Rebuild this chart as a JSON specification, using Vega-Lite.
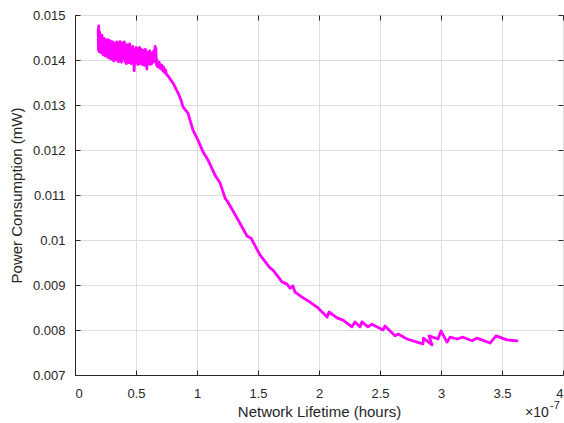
{
  "$schema": "https://vega.github.io/schema/vega-lite/v6.json",
  "width": 488,
  "height": 360,
  "autosize": "none",
  "padding": {"left": 75, "top": 15, "right": 1, "bottom": 48},
  "background": "white",
  "config": {
    "view": {"stroke": "#262626", "strokeWidth": 1},
    "font": "Liberation Sans",
    "axis": {
      "domainColor": "#262626",
      "tickColor": "#262626",
      "labelColor": "#262626",
      "titleColor": "#262626",
      "labelFont": "Liberation Sans",
      "titleFont": "Liberation Sans",
      "labelFontSize": 13,
      "titleFontSize": 15,
      "titleFontWeight": "normal",
      "gridColor": "#dedede",
      "gridWidth": 1,
      "tickSize": -5,
      "domainWidth": 1
    }
  },
  "data": {
    "values": [
      {"lifetime": 0.190, "power": 0.01468},
      {"lifetime": 0.192, "power": 0.01422},
      {"lifetime": 0.194, "power": 0.01476},
      {"lifetime": 0.197, "power": 0.01430},
      {"lifetime": 0.199, "power": 0.01418},
      {"lifetime": 0.202, "power": 0.01462},
      {"lifetime": 0.205, "power": 0.01440},
      {"lifetime": 0.207, "power": 0.01452},
      {"lifetime": 0.210, "power": 0.01420},
      {"lifetime": 0.213, "power": 0.01448},
      {"lifetime": 0.215, "power": 0.01426},
      {"lifetime": 0.218, "power": 0.01416},
      {"lifetime": 0.221, "power": 0.01455},
      {"lifetime": 0.224, "power": 0.01438},
      {"lifetime": 0.227, "power": 0.01446},
      {"lifetime": 0.230, "power": 0.01412},
      {"lifetime": 0.233, "power": 0.01430},
      {"lifetime": 0.236, "power": 0.01420},
      {"lifetime": 0.239, "power": 0.01448},
      {"lifetime": 0.243, "power": 0.01410},
      {"lifetime": 0.246, "power": 0.01436},
      {"lifetime": 0.249, "power": 0.01425},
      {"lifetime": 0.252, "power": 0.01444},
      {"lifetime": 0.256, "power": 0.01415},
      {"lifetime": 0.259, "power": 0.01408},
      {"lifetime": 0.262, "power": 0.01440},
      {"lifetime": 0.266, "power": 0.01428},
      {"lifetime": 0.269, "power": 0.01445},
      {"lifetime": 0.273, "power": 0.01405},
      {"lifetime": 0.276, "power": 0.01422},
      {"lifetime": 0.280, "power": 0.01437},
      {"lifetime": 0.283, "power": 0.01416},
      {"lifetime": 0.287, "power": 0.01443},
      {"lifetime": 0.291, "power": 0.01426},
      {"lifetime": 0.294, "power": 0.01402},
      {"lifetime": 0.298, "power": 0.01434},
      {"lifetime": 0.302, "power": 0.01418},
      {"lifetime": 0.305, "power": 0.01441},
      {"lifetime": 0.309, "power": 0.01408},
      {"lifetime": 0.313, "power": 0.01430},
      {"lifetime": 0.317, "power": 0.01398},
      {"lifetime": 0.321, "power": 0.01420},
      {"lifetime": 0.325, "power": 0.01438},
      {"lifetime": 0.329, "power": 0.01412},
      {"lifetime": 0.333, "power": 0.01434},
      {"lifetime": 0.337, "power": 0.01400},
      {"lifetime": 0.341, "power": 0.01416},
      {"lifetime": 0.345, "power": 0.01440},
      {"lifetime": 0.349, "power": 0.01406},
      {"lifetime": 0.353, "power": 0.01426},
      {"lifetime": 0.357, "power": 0.01396},
      {"lifetime": 0.361, "power": 0.01432},
      {"lifetime": 0.365, "power": 0.01414},
      {"lifetime": 0.369, "power": 0.01441},
      {"lifetime": 0.373, "power": 0.01402},
      {"lifetime": 0.377, "power": 0.01424},
      {"lifetime": 0.381, "power": 0.01395},
      {"lifetime": 0.385, "power": 0.01418},
      {"lifetime": 0.389, "power": 0.01438},
      {"lifetime": 0.393, "power": 0.01404},
      {"lifetime": 0.397, "power": 0.01428},
      {"lifetime": 0.401, "power": 0.01412},
      {"lifetime": 0.405, "power": 0.01440},
      {"lifetime": 0.409, "power": 0.01396},
      {"lifetime": 0.413, "power": 0.01420},
      {"lifetime": 0.417, "power": 0.01430},
      {"lifetime": 0.421, "power": 0.01392},
      {"lifetime": 0.425, "power": 0.01414},
      {"lifetime": 0.429, "power": 0.01434},
      {"lifetime": 0.433, "power": 0.01400},
      {"lifetime": 0.437, "power": 0.01424},
      {"lifetime": 0.441, "power": 0.01394},
      {"lifetime": 0.445, "power": 0.01412},
      {"lifetime": 0.449, "power": 0.01436},
      {"lifetime": 0.453, "power": 0.01398},
      {"lifetime": 0.457, "power": 0.01418},
      {"lifetime": 0.461, "power": 0.01392},
      {"lifetime": 0.465, "power": 0.01426},
      {"lifetime": 0.469, "power": 0.01405},
      {"lifetime": 0.473, "power": 0.01430},
      {"lifetime": 0.477, "power": 0.01395},
      {"lifetime": 0.481, "power": 0.01412},
      {"lifetime": 0.485, "power": 0.01376},
      {"lifetime": 0.489, "power": 0.01402},
      {"lifetime": 0.493, "power": 0.01424},
      {"lifetime": 0.497, "power": 0.01398},
      {"lifetime": 0.501, "power": 0.01428},
      {"lifetime": 0.505, "power": 0.01393},
      {"lifetime": 0.509, "power": 0.01410},
      {"lifetime": 0.513, "power": 0.01426},
      {"lifetime": 0.517, "power": 0.01390},
      {"lifetime": 0.521, "power": 0.01416},
      {"lifetime": 0.525, "power": 0.01400},
      {"lifetime": 0.529, "power": 0.01428},
      {"lifetime": 0.533, "power": 0.01392},
      {"lifetime": 0.537, "power": 0.01408},
      {"lifetime": 0.541, "power": 0.01424},
      {"lifetime": 0.545, "power": 0.01396},
      {"lifetime": 0.549, "power": 0.01414},
      {"lifetime": 0.553, "power": 0.01390},
      {"lifetime": 0.557, "power": 0.01422},
      {"lifetime": 0.561, "power": 0.01402},
      {"lifetime": 0.565, "power": 0.01416},
      {"lifetime": 0.569, "power": 0.01388},
      {"lifetime": 0.573, "power": 0.01410},
      {"lifetime": 0.577, "power": 0.01424},
      {"lifetime": 0.581, "power": 0.01394},
      {"lifetime": 0.585, "power": 0.01408},
      {"lifetime": 0.589, "power": 0.01380},
      {"lifetime": 0.593, "power": 0.01402},
      {"lifetime": 0.597, "power": 0.01418},
      {"lifetime": 0.601, "power": 0.01392},
      {"lifetime": 0.605, "power": 0.01412},
      {"lifetime": 0.609, "power": 0.01396},
      {"lifetime": 0.613, "power": 0.01420},
      {"lifetime": 0.617, "power": 0.01390},
      {"lifetime": 0.621, "power": 0.01406},
      {"lifetime": 0.625, "power": 0.01416},
      {"lifetime": 0.629, "power": 0.01392},
      {"lifetime": 0.633, "power": 0.01410},
      {"lifetime": 0.637, "power": 0.01395},
      {"lifetime": 0.641, "power": 0.01418},
      {"lifetime": 0.645, "power": 0.01398},
      {"lifetime": 0.649, "power": 0.01422},
      {"lifetime": 0.653, "power": 0.01400},
      {"lifetime": 0.657, "power": 0.01430},
      {"lifetime": 0.660, "power": 0.01396},
      {"lifetime": 0.663, "power": 0.01426},
      {"lifetime": 0.666, "power": 0.01390},
      {"lifetime": 0.670, "power": 0.01402},
      {"lifetime": 0.674, "power": 0.01386},
      {"lifetime": 0.679, "power": 0.01396},
      {"lifetime": 0.684, "power": 0.01385},
      {"lifetime": 0.690, "power": 0.01395},
      {"lifetime": 0.696, "power": 0.01382},
      {"lifetime": 0.702, "power": 0.01390},
      {"lifetime": 0.708, "power": 0.01380},
      {"lifetime": 0.714, "power": 0.01388},
      {"lifetime": 0.720, "power": 0.01376},
      {"lifetime": 0.727, "power": 0.01384},
      {"lifetime": 0.734, "power": 0.01372},
      {"lifetime": 0.741, "power": 0.01378},
      {"lifetime": 0.750, "power": 0.01368},
      {"lifetime": 0.765, "power": 0.01364},
      {"lifetime": 0.779, "power": 0.01358},
      {"lifetime": 0.803, "power": 0.01349},
      {"lifetime": 0.844, "power": 0.01327},
      {"lifetime": 0.869, "power": 0.01311},
      {"lifetime": 0.885, "power": 0.01296},
      {"lifetime": 0.926, "power": 0.01282},
      {"lifetime": 0.967, "power": 0.01244},
      {"lifetime": 1.008, "power": 0.01222},
      {"lifetime": 1.049, "power": 0.01196},
      {"lifetime": 1.090, "power": 0.01178},
      {"lifetime": 1.148, "power": 0.01144},
      {"lifetime": 1.189, "power": 0.01127},
      {"lifetime": 1.230, "power": 0.01093},
      {"lifetime": 1.254, "power": 0.01084},
      {"lifetime": 1.328, "power": 0.01049},
      {"lifetime": 1.410, "power": 0.01009},
      {"lifetime": 1.443, "power": 0.01004},
      {"lifetime": 1.516, "power": 0.00967},
      {"lifetime": 1.598, "power": 0.00938},
      {"lifetime": 1.623, "power": 0.00933},
      {"lifetime": 1.697, "power": 0.00907},
      {"lifetime": 1.738, "power": 0.00902},
      {"lifetime": 1.762, "power": 0.00893},
      {"lifetime": 1.787, "power": 0.00898},
      {"lifetime": 1.803, "power": 0.00884},
      {"lifetime": 1.861, "power": 0.00873},
      {"lifetime": 1.926, "power": 0.00862},
      {"lifetime": 1.984, "power": 0.00851},
      {"lifetime": 2.066, "power": 0.00829},
      {"lifetime": 2.082, "power": 0.00840},
      {"lifetime": 2.148, "power": 0.00827},
      {"lifetime": 2.197, "power": 0.00822},
      {"lifetime": 2.270, "power": 0.00807},
      {"lifetime": 2.295, "power": 0.00818},
      {"lifetime": 2.336, "power": 0.00807},
      {"lifetime": 2.352, "power": 0.00818},
      {"lifetime": 2.402, "power": 0.00807},
      {"lifetime": 2.434, "power": 0.00813},
      {"lifetime": 2.525, "power": 0.00800},
      {"lifetime": 2.541, "power": 0.00809},
      {"lifetime": 2.623, "power": 0.00787},
      {"lifetime": 2.648, "power": 0.00791},
      {"lifetime": 2.721, "power": 0.00780},
      {"lifetime": 2.803, "power": 0.00773},
      {"lifetime": 2.852, "power": 0.00769},
      {"lifetime": 2.856, "power": 0.00782},
      {"lifetime": 2.926, "power": 0.00767},
      {"lifetime": 2.902, "power": 0.00787},
      {"lifetime": 2.975, "power": 0.00780},
      {"lifetime": 3.000, "power": 0.00798},
      {"lifetime": 3.049, "power": 0.00773},
      {"lifetime": 3.074, "power": 0.00784},
      {"lifetime": 3.131, "power": 0.00780},
      {"lifetime": 3.180, "power": 0.00784},
      {"lifetime": 3.254, "power": 0.00776},
      {"lifetime": 3.295, "power": 0.00782},
      {"lifetime": 3.402, "power": 0.00771},
      {"lifetime": 3.451, "power": 0.00787},
      {"lifetime": 3.541, "power": 0.00778},
      {"lifetime": 3.623, "power": 0.00776}
    ]
  },
  "layer": [
    {
      "mark": {"type": "line", "color": "#ff00ff", "strokeWidth": 2.8, "strokeJoin": "round", "strokeCap": "round"},
      "encoding": {
        "x": {
          "field": "lifetime", "type": "quantitative",
          "scale": {"domain": [0, 4], "nice": false, "zero": false},
          "axis": {"orient": "bottom", "values": [0, 0.5, 1, 1.5, 2, 2.5, 3, 3.5, 4], "format": "~g", "grid": true, "labelPadding": 17, "title": "Network Lifetime (hours)", "titlePadding": 4}
        },
        "y": {
          "field": "power", "type": "quantitative",
          "scale": {"domain": [0.007, 0.015], "nice": false, "zero": false},
          "axis": {"orient": "left", "values": [0.007, 0.008, 0.009, 0.01, 0.011, 0.012, 0.013, 0.014, 0.015], "format": "~g", "grid": true, "labelPadding": 15, "title": "Power Consumption (mW)", "titlePadding": 8}
        },
        "order": {"value": null}
      }
    },
    {
      "mark": {"type": "line", "opacity": 0},
      "encoding": {
        "x": {"field": "lifetime", "type": "quantitative", "axis": {"orient": "top", "values": [0, 0.5, 1, 1.5, 2, 2.5, 3, 3.5, 4], "labels": false, "grid": false, "title": null, "domain": false}},
        "y": {"field": "power", "type": "quantitative", "axis": {"orient": "right", "values": [0.007, 0.008, 0.009, 0.01, 0.011, 0.012, 0.013, 0.014, 0.015], "labels": false, "grid": false, "title": null, "domain": false}},
        "order": {"value": null}
      }
    },
    {
      "data": {"values": [{"label": "×10"}]},
      "mark": {"type": "text", "align": "left", "baseline": "middle", "dx": -38, "dy": 38, "fontSize": 14, "color": "#262626", "font": "Liberation Sans"},
      "encoding": {
        "x": {"datum": 4, "type": "quantitative", "axis": null},
        "y": {"datum": 0.007, "type": "quantitative", "axis": null},
        "text": {"field": "label"}
      }
    },
    {
      "data": {"values": [{"label": "-7"}]},
      "mark": {"type": "text", "align": "left", "baseline": "middle", "dx": -13, "dy": 31, "fontSize": 11, "color": "#262626", "font": "Liberation Sans"},
      "encoding": {
        "x": {"datum": 4, "type": "quantitative", "axis": null},
        "y": {"datum": 0.007, "type": "quantitative", "axis": null},
        "text": {"field": "label"}
      }
    }
  ],
  "resolve": {"axis": {"x": "independent", "y": "independent"}}
}
